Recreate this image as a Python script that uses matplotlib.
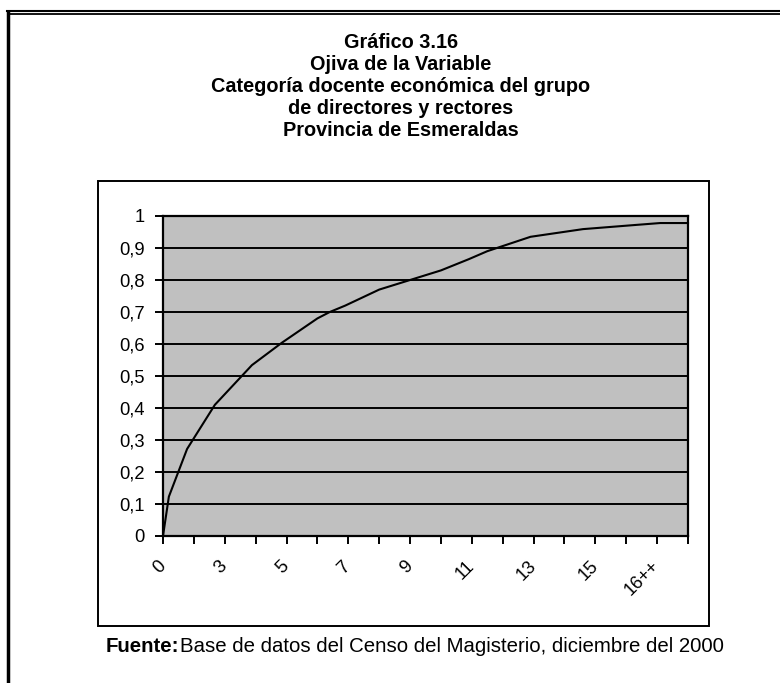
import matplotlib
matplotlib.use("Agg")
import matplotlib.pyplot as plt
from matplotlib.lines import Line2D
from matplotlib.patches import Rectangle
from matplotlib import font_manager

# ---------------- data ----------------
categories = ["0", "1", "3", "4", "5", "6", "7", "8", "9", "10", "11", "12",
              "13", "14", "15", "16", "16++", ""]
# ogive points (position along category axis, cumulative relative frequency)
ogive_x = [0.0, 0.19, 0.78, 1.68, 2.88, 3.85, 5.0, 5.4, 5.9, 7.0, 8.0, 9.0,
           9.9, 10.5, 11.9, 13.6, 15.3, 16.1, 17.0]
ogive_y = [0.0, 0.123, 0.272, 0.41, 0.534, 0.604, 0.68, 0.70, 0.72, 0.77,
           0.80, 0.83, 0.865, 0.89, 0.935, 0.959, 0.972, 0.978, 0.978]
y_ticks = [0, 0.1, 0.2, 0.3, 0.4, 0.5, 0.6, 0.7, 0.8, 0.9, 1.0]
y_labels = ["0", "0,1", "0,2", "0,3", "0,4", "0,5", "0,6", "0,7", "0,8", "0,9", "1"]
title_lines = ["Gráfico 3.16", "Ojiva de la Variable",
               "Categoría docente económica del grupo",
               "de directores y rectores", "Provincia de Esmeraldas"]
source_bold = "Fuente:"
source_text = "Base de datos del Censo del Magisterio, diciembre del 2000"

# ---------------- figure ----------------
W, H = 780, 683
fig = plt.figure(figsize=(W / 100, H / 100), dpi=100)
fig.patch.set_facecolor("white")

def fx(px):
    return px / W

def fy(py):
    return 1 - py / H

FONT = "Liberation Sans"
avail = {f.name for f in font_manager.fontManager.ttflist}
NARROW = "Liberation Sans Narrow" if "Liberation Sans Narrow" in avail else None

# outer frame: double top line + thick left line
fig.add_artist(Line2D([fx(7), fx(780)], [fy(11), fy(11)], color="black", lw=1.5,
                      transform=fig.transFigure))
fig.add_artist(Line2D([fx(10), fx(780)], [fy(14.2), fy(14.2)], color="black", lw=1.3,
                      transform=fig.transFigure))
fig.add_artist(Line2D([fx(8.4), fx(8.4)], [fy(10), fy(683)], color="black", lw=2.5,
                      transform=fig.transFigure, solid_capstyle="butt"))

# inner chart frame
fig.add_artist(Rectangle((fx(97.5), fy(625.5)), fx(709) - fx(97.5), fy(180.5) - fy(625.5),
                         transform=fig.transFigure, fill=False, edgecolor="black", lw=1.4))

# title (baselines)
title_base = [48.5, 70.5, 92.5, 114, 136]
for t, yy in zip(title_lines, title_base):
    fig.text(fx(401), fy(yy), t, ha="center", va="baseline", fontsize=14.3,
             fontweight="bold", family=FONT)

# plot area
ax = fig.add_axes([fx(163), fy(536), fx(688) - fx(163), fy(216) - fy(536)])
ax.set_facecolor("#C0C0C0")
ax.set_xlim(0, len(categories) - 1)
ax.set_ylim(0, 1)
ax.plot(ogive_x, ogive_y, color="black", lw=1.5, zorder=3, clip_on=False)

ax.set_yticks(y_ticks)
ax.set_yticklabels(y_labels, fontsize=13.2, family=FONT)
for yv in y_ticks[1:]:
    ax.axhline(yv, color="black", lw=1.4, zorder=2)

ax.set_xticks(range(len(categories)))
shown = [c if i % 2 == 0 else "" for i, c in enumerate(categories)]
ax.set_xticklabels(shown, fontsize=13.2, family=FONT, rotation=45,
                   ha="right", va="center", rotation_mode="anchor")
ax.tick_params(axis="y", direction="out", length=6, width=1.4, pad=7)
ax.tick_params(axis="x", direction="out", length=6, width=1.4, pad=14)
for s in ax.spines.values():
    s.set_linewidth(1.6)
    s.set_color("black")

# source note
src_size = 14.7
if NARROW:
    fam = NARROW
    src_size = 17
else:
    fam = FONT
t1 = fig.text(fx(106), fy(647), source_bold, ha="left", va="center", fontsize=src_size,
              fontweight="bold", family=fam)
fig.canvas.draw()
bb = t1.get_window_extent()
fig.text((bb.x1 + 0.5) / W, fy(647), source_text, ha="left", va="center",
         fontsize=src_size, family=fam)

fig.savefig("out.png", dpi=100, facecolor="white")
